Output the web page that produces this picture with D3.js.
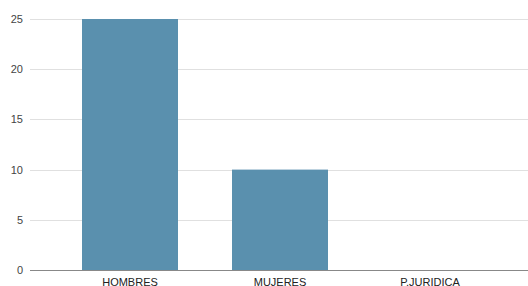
<!DOCTYPE html>
<html>
<head>
<meta charset="utf-8">
<script src="https://cdn.jsdelivr.net/npm/d3@7"></script>
<style>
  body { margin: 0; background: #fff; }
  svg { display: block; font-family: Arial, "Liberation Sans", sans-serif; }
</style>
</head>
<body>
<div id="container"></div>
<script>
// chart data
const categories = ["HOMBRES", "MUJERES", "P.JURIDICA"];
const counts = [25, 10, 0];
const yTicks = [0, 5, 10, 15, 20, 25];

const width = 528;
const height = 286;
const margin = { top: 19, right: 0, bottom: 16, left: 30 };

const svg = d3.select("#container")
    .append("svg")
    .attr("width", width)
    .attr("height", height);

const x = d3.scaleBand()
    .domain(categories)
    .range([55, 505])
    .paddingInner(0.36)
    .paddingOuter(0.18);

const y = d3.scaleLinear()
    .domain([0, 25])
    .range([height - margin.bottom, margin.top]);

// gridlines
svg.append("g")
    .selectAll("line")
    .data(yTicks.filter(d => d > 0))
    .join("line")
    .attr("x1", margin.left)
    .attr("x2", width)
    .attr("y1", d => Math.round(y(d)) + 0.5)
    .attr("y2", d => Math.round(y(d)) + 0.5)
    .attr("stroke", "#e0e0e0")
    .attr("stroke-width", 1);

// y axis labels
svg.append("g")
    .selectAll("text")
    .data(yTicks)
    .join("text")
    .attr("x", 23)
    .attr("y", d => y(d) + 4)
    .attr("text-anchor", "end")
    .attr("font-size", "11px")
    .attr("fill", "#444")
    .text(d => d);

// bars
const data = categories.map((c, i) => ({ cat: c, value: counts[i] }));
svg.append("g")
    .attr("fill", "#5a90ae")
    .selectAll("rect")
    .data(data)
    .join("rect")
    .attr("x", d => x(d.cat))
    .attr("y", d => y(d.value))
    .attr("width", x.bandwidth())
    .attr("height", d => y(0) - y(d.value));

// baseline
svg.append("line")
    .attr("x1", margin.left)
    .attr("x2", width)
    .attr("y1", Math.round(y(0)) + 0.5)
    .attr("y2", Math.round(y(0)) + 0.5)
    .attr("stroke", "#888")
    .attr("stroke-width", 1);

// category labels
svg.append("g")
    .selectAll("text")
    .data(categories)
    .join("text")
    .attr("x", d => x(d) + x.bandwidth() / 2)
    .attr("y", y(0) + 16)
    .attr("text-anchor", "middle")
    .attr("font-size", "11px")
    .attr("fill", "#222")
    .text(d => d);
</script>
</body>
</html>
